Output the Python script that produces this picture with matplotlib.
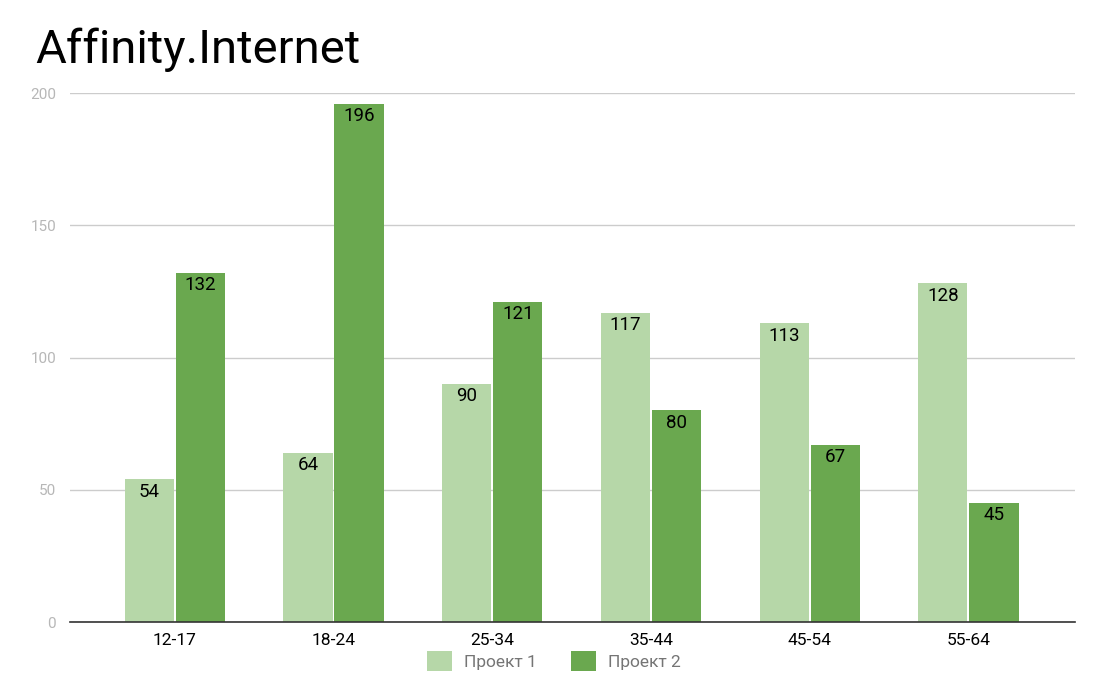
import matplotlib
matplotlib.use("Agg")
import matplotlib.pyplot as plt
import numpy as np

categories = ["12-17", "18-24", "25-34", "35-44", "45-54", "55-64"]
project1 = [54, 64, 90, 117, 113, 128]
project2 = [132, 196, 121, 80, 67, 45]
series_names = ["Проект 1", "Проект 2"]
colors = ["#b6d7a8", "#6aa84f"]

plt.rcParams['font.family'] = ['Roboto', 'DejaVu Sans']

fig = plt.figure(figsize=(11.08, 6.84), dpi=100)
ax = fig.add_axes([0.0632, 0.0906, 0.9068, 0.7734])

x = np.arange(len(categories))
w = 0.31
gap = 0.006
b1 = ax.bar(x - w/2 - gap, project1, width=w, color=colors[0], label=series_names[0], zorder=3)
b2 = ax.bar(x + w/2 + gap, project2, width=w, color=colors[1], label=series_names[1], zorder=3)

for bars, vals in ((b1, project1), (b2, project2)):
    for r, v in zip(bars, vals):
        ax.annotate(str(v), (r.get_x() + r.get_width()/2, v), xytext=(0, -2.5),
                    textcoords="offset points", ha="center", va="top",
                    fontsize=13.5, color="#000000", zorder=4)

ax.set_xlim(-0.66, 5.67)
ax.set_ylim(0, 200)
ax.set_yticks([0, 50, 100, 150, 200])
ax.set_xticks(x)
ax.set_xticklabels(categories, fontsize=12.5, color="#000000")
ax.tick_params(axis='y', labelsize=11, labelcolor="#b7b7b7", length=0, pad=10)
ax.tick_params(axis='x', length=0, pad=8)
ax.grid(axis='y', color="#cccccc", linewidth=1, zorder=0)
for s in ["top", "right", "left"]:
    ax.spines[s].set_visible(False)
ax.spines["bottom"].set_color("#333333")
ax.spines["bottom"].set_linewidth(1.2)
ax.spines["bottom"].set_zorder(5)

fig.text(0.032, 0.927, "Affinity.Internet", fontsize=34, color="#000000", ha="left", va="center")

leg = fig.legend(loc="center", bbox_to_anchor=(0.5, 0.033), ncol=2, frameon=False,
                 fontsize=12.5, handlelength=1.4, handleheight=1.4, columnspacing=2.0,
                 handletextpad=0.7)
for t in leg.get_texts():
    t.set_color("#757575")

fig.savefig("out.png", dpi=100)
